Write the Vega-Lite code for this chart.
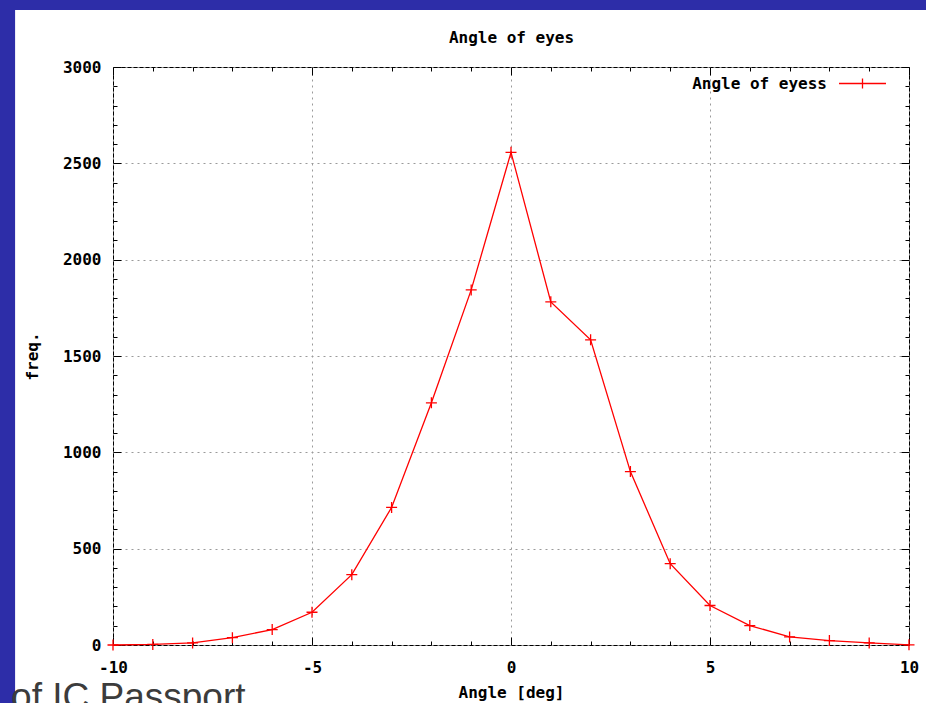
{
  "$schema": "https://vega.github.io/schema/vega-lite/v6.json",
  "width": 796,
  "height": 578,
  "autosize": {"type": "none"},
  "padding": {"left": 113, "top": 67, "right": 17, "bottom": 58},
  "background": "#ffffff",
  "config": {
    "view": {"stroke": "#000000", "strokeWidth": 1},
    "axis": {
      "labelFont": "DejaVu Sans Mono",
      "labelFontSize": 16,
      "labelFontWeight": "bold",
      "labelColor": "#000000",
      "titleFont": "DejaVu Sans Mono",
      "titleFontSize": 16,
      "titleFontWeight": "bold",
      "titleColor": "#000000",
      "tickColor": "#000000",
      "tickWidth": 1,
      "domain": false,
      "labelOverlap": false,
      "labelBound": false,
      "labelFlush": false,
      "gridColor": "#9a9a9a",
      "gridDash": [2, 4],
      "gridWidth": 1
    }
  },
  "data": {
    "values": [
      {"angle": -10, "freq": 0, "series": "Angle of eyess"},
      {"angle": -9, "freq": 3, "series": "Angle of eyess"},
      {"angle": -8, "freq": 11, "series": "Angle of eyess"},
      {"angle": -7, "freq": 38, "series": "Angle of eyess"},
      {"angle": -6, "freq": 80, "series": "Angle of eyess"},
      {"angle": -5, "freq": 170, "series": "Angle of eyess"},
      {"angle": -4, "freq": 365, "series": "Angle of eyess"},
      {"angle": -3, "freq": 714, "series": "Angle of eyess"},
      {"angle": -2, "freq": 1257, "series": "Angle of eyess"},
      {"angle": -1, "freq": 1843, "series": "Angle of eyess"},
      {"angle": 0, "freq": 2557, "series": "Angle of eyess"},
      {"angle": 1, "freq": 1781, "series": "Angle of eyess"},
      {"angle": 2, "freq": 1584, "series": "Angle of eyess"},
      {"angle": 3, "freq": 900, "series": "Angle of eyess"},
      {"angle": 4, "freq": 422, "series": "Angle of eyess"},
      {"angle": 5, "freq": 205, "series": "Angle of eyess"},
      {"angle": 6, "freq": 101, "series": "Angle of eyess"},
      {"angle": 7, "freq": 42, "series": "Angle of eyess"},
      {"angle": 8, "freq": 23, "series": "Angle of eyess"},
      {"angle": 9, "freq": 11, "series": "Angle of eyess"},
      {"angle": 10, "freq": 1, "series": "Angle of eyess"}
    ]
  },
  "layer": [
    {
      "data": {"values": [{}]},
      "mark": {"type": "rect", "color": "#2d2da8"},
      "encoding": {
        "x": {"datum": -13.5, "type": "quantitative", "scale": {"domain": [-10, 10], "nice": false, "zero": false}, "axis": null},
        "x2": {"datum": -12.46},
        "y": {"datum": -500, "type": "quantitative", "scale": {"domain": [0, 3000], "nice": false, "zero": false}, "axis": null},
        "y2": {"datum": 3600}
      }
    },
    {
      "data": {"values": [{}]},
      "mark": {"type": "rect", "color": "#2d2da8"},
      "encoding": {
        "x": {"datum": -13.5, "type": "quantitative", "scale": {"domain": [-10, 10], "nice": false, "zero": false}, "axis": null},
        "x2": {"datum": 11.5},
        "y": {"datum": 3296, "type": "quantitative", "scale": {"domain": [0, 3000], "nice": false, "zero": false}, "axis": null},
        "y2": {"datum": 3600}
      }
    },
    {
      "data": {"values": [{}]},
      "mark": {"type": "text", "text": "of IC Passport", "font": "Liberation Sans", "fontSize": 37, "color": "#3c3c3c", "align": "left", "baseline": "alphabetic"},
      "encoding": {
        "x": {"datum": -12.56, "type": "quantitative", "scale": {"domain": [-10, 10], "nice": false, "zero": false}, "axis": null},
        "y": {"datum": -332, "type": "quantitative", "scale": {"domain": [0, 3000], "nice": false, "zero": false}, "axis": null}
      }
    },
    {
      "mark": {"type": "line", "strokeWidth": 1.3},
      "encoding": {
        "x": {
          "field": "angle",
          "type": "quantitative",
          "scale": {"domain": [-10, 10], "nice": false, "zero": false},
          "axis": {
            "orient": "bottom",
            "title": "Angle [deg]",
            "titlePadding": 5,
            "values": [-10, -9, -8, -7, -6, -5, -4, -3, -2, -1, 0, 1, 2, 3, 4, 5, 6, 7, 8, 9, 10],
            "labelExpr": "datum.value % 5 === 0 ? '' + datum.value : ''",
            "tickSize": {"condition": {"test": "datum.value % 5 === 0", "value": -8}, "value": -4},
            "labelPadding": 22,
            "grid": true,
            "gridOpacity": {"condition": {"test": "datum.value % 5 === 0", "value": 1}, "value": 0}
          }
        },
        "y": {
          "field": "freq",
          "type": "quantitative",
          "scale": {"domain": [0, 3000], "nice": false, "zero": false},
          "axis": {
            "orient": "left",
            "title": "freq.",
            "titlePadding": 22,
            "values": [0, 100, 200, 300, 400, 500, 600, 700, 800, 900, 1000, 1100, 1200, 1300, 1400, 1500, 1600, 1700, 1800, 1900, 2000, 2100, 2200, 2300, 2400, 2500, 2600, 2700, 2800, 2900, 3000],
            "labelExpr": "datum.value % 500 === 0 ? '' + datum.value : ''",
            "tickSize": {"condition": {"test": "datum.value % 500 === 0", "value": -8}, "value": -4},
            "labelPadding": 20,
            "grid": true,
            "gridOpacity": {"condition": {"test": "datum.value % 500 === 0", "value": 1}, "value": 0}
          }
        },
        "color": {
          "field": "series",
          "type": "nominal",
          "scale": {"range": ["#ff0000"]},
          "legend": {
            "orient": "top-right",
            "title": null,
            "offset": 6,
            "padding": 0,
            "symbolType": "M-2.5,0H2.5M0,-0.53V0.53M4,0L4,0",
            "symbolSize": 353,
            "symbolStrokeWidth": 1.3,
            "symbolFillColor": "transparent",
            "labelAlign": "right",
            "labelOffset": -46,
            "labelFont": "DejaVu Sans Mono",
            "labelFontSize": 16,
            "labelFontWeight": "bold",
            "labelColor": "#000000"
          }
        }
      }
    },
    {
      "mark": {"type": "point", "shape": "M-1,0H1M0,-1V1", "size": 121, "filled": false, "color": "#ff0000", "strokeWidth": 1.3, "opacity": 1},
      "encoding": {
        "x": {
          "field": "angle",
          "type": "quantitative",
          "scale": {"domain": [-10, 10], "nice": false, "zero": false},
          "axis": {
            "orient": "top",
            "title": "Angle of eyes",
            "titleBaseline": "alphabetic",
            "titlePadding": 24,
            "labels": false,
            "grid": false,
            "values": [-10, -9, -8, -7, -6, -5, -4, -3, -2, -1, 0, 1, 2, 3, 4, 5, 6, 7, 8, 9, 10],
            "tickSize": {"condition": {"test": "datum.value % 5 === 0", "value": -8}, "value": -4}
          }
        },
        "y": {
          "field": "freq",
          "type": "quantitative",
          "scale": {"domain": [0, 3000], "nice": false, "zero": false},
          "axis": {
            "orient": "right",
            "title": null,
            "labels": false,
            "grid": false,
            "values": [0, 100, 200, 300, 400, 500, 600, 700, 800, 900, 1000, 1100, 1200, 1300, 1400, 1500, 1600, 1700, 1800, 1900, 2000, 2100, 2200, 2300, 2400, 2500, 2600, 2700, 2800, 2900, 3000],
            "tickSize": {"condition": {"test": "datum.value % 500 === 0", "value": -8}, "value": -4}
          }
        }
      }
    }
  ],
  "resolve": {"axis": {"x": "independent", "y": "independent"}}
}
